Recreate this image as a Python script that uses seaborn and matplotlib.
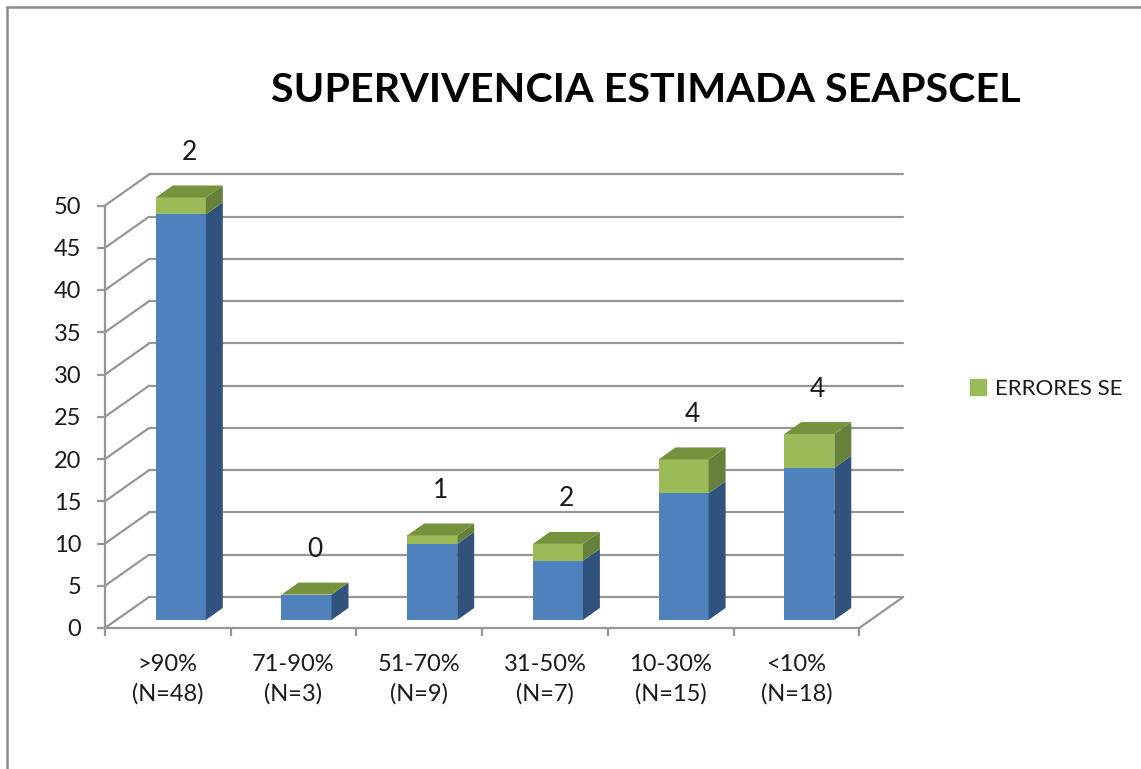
import numpy as np
import pandas as pd
import matplotlib
matplotlib.use("Agg")
import matplotlib.pyplot as plt
from matplotlib.patches import Polygon, Patch
from matplotlib.lines import Line2D
import seaborn as sns

# ---- data ----
categories = [">90%\n(N=48)", "71-90%\n(N=3)", "51-70%\n(N=9)",
              "31-50%\n(N=7)", "10-30%\n(N=15)", "<10%\n(N=18)"]
supervivencia = [48, 3, 9, 7, 15, 18]
errores_se = [2, 0, 1, 2, 4, 4]
y_ticks = list(range(0, 55, 5))

df = pd.DataFrame({"cat": categories, "base": supervivencia, "err": errores_se})
df["pos"] = np.arange(len(df))

# ---- styling / pseudo 3d geometry ----
sns.set_theme(style="white")
plt.rcParams["font.family"] = ["Lato", "DejaVu Sans"]

BLUE, BLUE_SIDE = "#4F81BD", "#30527C"
GREEN, GREEN_TOP, GREEN_SIDE = "#9BBB59", "#76923C", "#66813A"
GRID = "#969696"
TXT = "#1a1a1a"

W, H = 1141, 769
X0_PX, UX = 105, 125.7     # pixel of x=-0.5, pixels per category
Y0_PX, UY = 628, 8.45      # pixel of y=0, pixels per unit
XMAX, YMAX = 6.0, 54.5

wall_dx, wall_dy = 0.35, 3.67      # depth of the floor / side wall
bar_off_x, bar_off_y = 0.103, 0.95  # front face of bars sits inside the box
bar_dx, bar_dy = 0.135, 1.42        # depth of each bar
bar_w = 0.398

fig = plt.figure(figsize=(W / 100, H / 100), dpi=100)
ax = fig.add_axes([X0_PX / W, (H - Y0_PX) / H,
                   (XMAX + 0.5) * UX / W, YMAX * UY / H])
ax.set_xlim(-0.5, XMAX)
ax.set_ylim(0, YMAX)

# back wall gridlines + left wall diagonals
for v in y_ticks:
    ax.plot([-0.5 + wall_dx, 5.5 + wall_dx], [v + wall_dy, v + wall_dy],
            color=GRID, lw=1.6, zorder=1, clip_on=False)
    ax.plot([-0.5, -0.5 + wall_dx], [v, v + wall_dy],
            color=GRID, lw=1.6, zorder=1, clip_on=False)
# right edge of the floor
ax.plot([5.5, 5.5 + wall_dx], [0, wall_dy], color=GRID, lw=1.6,
        zorder=1, clip_on=False)

# front faces with seaborn
df["x"] = df["pos"] + bar_off_x
n0 = len(ax.patches)
sns.barplot(data=df, x="x", y="base", native_scale=True, width=bar_w,
            color=BLUE, saturation=1, errorbar=None, ax=ax, zorder=3,
            linewidth=0)
blue_bars = ax.patches[n0:]
for p in blue_bars:
    p.set_y(p.get_y() + bar_off_y)
n1 = len(ax.patches)
sns.barplot(data=df, x="x", y="err", native_scale=True, width=bar_w,
            color=GREEN, saturation=1, errorbar=None, ax=ax, zorder=3,
            linewidth=0)
green_bars = ax.patches[n1:]
for p, b in zip(green_bars, df["base"]):
    p.set_y(p.get_y() + bar_off_y + b)

# sides and tops
for i, row in df.iterrows():
    x1 = row["x"] + bar_w / 2
    x0 = row["x"] - bar_w / 2
    y_b = bar_off_y
    y_m = bar_off_y + row["base"]
    y_t = y_m + row["err"]
    ax.add_patch(Polygon([(x1, y_b), (x1 + bar_dx, y_b + bar_dy),
                          (x1 + bar_dx, y_m + bar_dy), (x1, y_m)],
                         closed=True, fc=BLUE_SIDE, ec="none", zorder=3))
    if row["err"] > 0:
        ax.add_patch(Polygon([(x1, y_m), (x1 + bar_dx, y_m + bar_dy),
                              (x1 + bar_dx, y_t + bar_dy), (x1, y_t)],
                             closed=True, fc=GREEN_SIDE, ec="none", zorder=3))
    ax.add_patch(Polygon([(x0, y_t), (x1, y_t), (x1 + bar_dx, y_t + bar_dy),
                          (x0 + bar_dx, y_t + bar_dy)],
                         closed=True, fc=GREEN_TOP, ec="none", zorder=3))
    # data label = error value
    ax.text(row["x"] + bar_dx / 2, y_t + bar_dy + 3.9, str(row["err"]),
            ha="center", va="center", fontsize=19, color=TXT, zorder=4)

# axes
for s in ["top", "right"]:
    ax.spines[s].set_visible(False)
for s in ["left", "bottom"]:
    ax.spines[s].set_color(GRID)
    ax.spines[s].set_linewidth(1.6)
ax.spines["left"].set_bounds(0, 50)
ax.spines["bottom"].set_bounds(-0.5, 5.5)
ax.set_yticks(y_ticks)
ax.set_yticklabels([str(v) for v in y_ticks])
ax.tick_params(axis="y", which="major", direction="out", length=6,
               width=1.6, color=GRID, pad=11, labelsize=17, labelcolor=TXT,
               left=True)
ax.set_xticks(np.arange(-0.5, 6, 1.0))
ax.set_xticklabels([])
ax.set_xticks(df["pos"], minor=True)
ax.set_xticklabels(categories, minor=True, linespacing=1.45)
ax.tick_params(axis="x", which="major", direction="out", length=6,
               width=1.6, color=GRID, bottom=True)
ax.tick_params(axis="x", which="minor", length=0, pad=19, labelsize=17,
               labelcolor=TXT)
ax.set_xlabel("")
ax.set_ylabel("")
ax.grid(False)

# legend (only the error series is shown)
fig.legend(handles=[Patch(color=GREEN, label="ERRORES SE")],
           loc="center left", bbox_to_anchor=(959 / W, 1 - 389 / H),
           frameon=False, fontsize=16, handlelength=0.7, handleheight=0.7,
           handletextpad=0.4, borderpad=0, labelcolor=TXT)

# title, fitted to the width seen in the picture
title = fig.text(646 / W, 1 - 91 / H, "SUPERVIVENCIA ESTIMADA SEAPSCEL",
                 ha="center", va="center", fontsize=32, fontweight="bold",
                 color="black")
r = fig.canvas.get_renderer()
tw = title.get_window_extent(renderer=r).width
title.set_fontsize(32 * 752 / tw)

# chart border (top and left visible)
fig.add_artist(Line2D([7 / W, 1], [1 - 7 / H, 1 - 7 / H], color="#8c8c8c",
                      lw=1.8, transform=fig.transFigure))
fig.add_artist(Line2D([7 / W, 7 / W], [0, 1 - 7 / H], color="#8c8c8c",
                      lw=1.8, transform=fig.transFigure))

fig.savefig("out.png", dpi=100)
